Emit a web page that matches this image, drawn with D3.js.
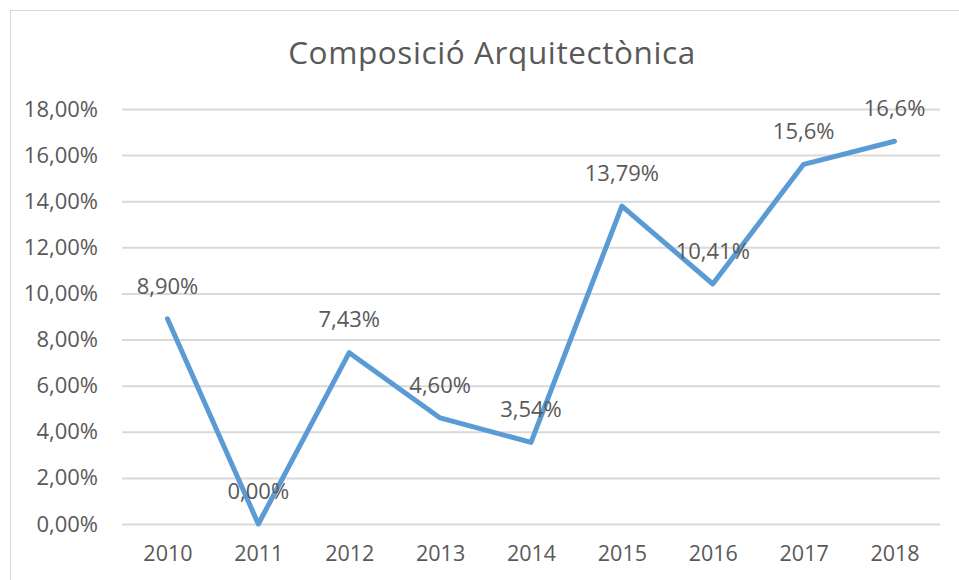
<!DOCTYPE html>
<html>
<head>
<meta charset="utf-8">
<script src="https://cdn.jsdelivr.net/npm/d3@7"></script>
<style>
  body { margin: 0; background: #fff; }
  svg text { font-family: "Open Sans", sans-serif; fill: #595959; }
</style>
</head>
<body>
<div id="chart"></div>
<script>
const years = ['2010', '2011', '2012', '2013', '2014', '2015', '2016', '2017', '2018'];
const values = [8.90, 0.00, 7.43, 4.60, 3.54, 13.79, 10.41, 15.6, 16.6];
const valueLabels = ['8,90%', '0,00%', '7,43%', '4,60%', '3,54%', '13,79%', '10,41%', '15,6%', '16,6%'];
const yTicks = [0, 2, 4, 6, 8, 10, 12, 14, 16, 18];

const W = 959, H = 580;
const margin = { top: 109, right: 19, bottom: 56, left: 122 };
const width = W - margin.left - margin.right;
const height = H - margin.top - margin.bottom;

const svg = d3.select('#chart').append('svg')
  .attr('width', W)
  .attr('height', H);

// chart frame
svg.append('rect')
  .attr('x', 10.5).attr('y', 10.5)
  .attr('width', W + 10).attr('height', H + 10)
  .attr('fill', 'none')
  .attr('stroke', '#d9d9d9');

svg.append('text')
  .attr('x', 492).attr('y', 64)
  .attr('text-anchor', 'middle')
  .style('font-size', '31.5px')
  .style('letter-spacing', '0.6px')
  .text('Composició Arquitectònica');

const g = svg.append('g')
  .attr('transform', `translate(${margin.left},${margin.top})`);

const x = d3.scalePoint()
  .domain(years)
  .range([0, width])
  .padding(0.5);

const y = d3.scaleLinear()
  .domain([0, 18])
  .range([height, 0]);

// grid
const yAxis = g.append('g')
  .call(d3.axisLeft(y)
    .tickValues(yTicks)
    .tickSize(-width)
    .tickPadding(24)
    .tickFormat(d => d3.format('.2f')(d).replace('.', ',') + '%'));
yAxis.select('.domain').remove();
yAxis.selectAll('.tick line').attr('stroke', '#d9d9d9').attr('stroke-width', 2);
yAxis.selectAll('.tick text').style('font-size', '22px');

const xAxis = g.append('g')
  .attr('transform', `translate(0,${height})`)
  .call(d3.axisBottom(x).tickSize(0).tickPadding(22));
xAxis.select('.domain').remove();
xAxis.selectAll('.tick text').style('font-size', '21.5px');

const line = d3.line()
  .x((d, i) => x(years[i]))
  .y(d => y(d));

g.append('path')
  .datum(values)
  .attr('fill', 'none')
  .attr('stroke', '#5b9bd5')
  .attr('stroke-width', 5)
  .attr('stroke-linejoin', 'round')
  .attr('stroke-linecap', 'round')
  .attr('d', line);

g.selectAll('.lbl')
  .data(values)
  .join('text')
  .attr('class', 'lbl')
  .attr('x', (d, i) => x(years[i]))
  .attr('y', d => y(d) - 33)
  .attr('dy', '0.35em')
  .attr('text-anchor', 'middle')
  .style('font-size', '22px')
  .text((d, i) => valueLabels[i]);
</script>
</body>
</html>
